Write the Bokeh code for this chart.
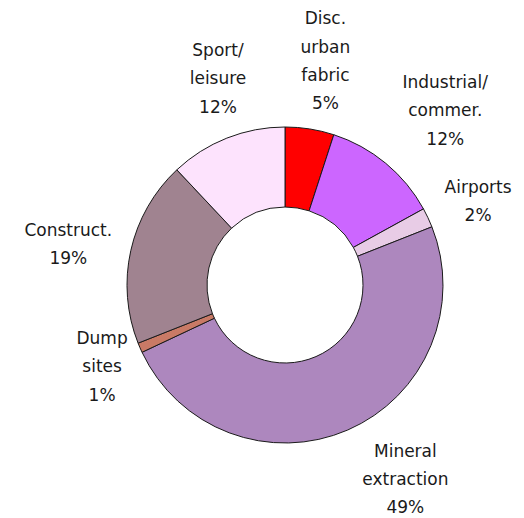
import math
from bokeh.plotting import figure
from bokeh.models import Range1d, ColumnDataSource
from bokeh.embed import file_html
from bokeh.resources import INLINE
from bokeh.core.properties import value

# Data (clockwise from 12 o'clock)
categories = ["Disc.\nurban\nfabric", "Industrial/\ncommer.", "Airports", "Mineral\nextraction",
              "Dump\nsites", "Construct.", "Sport/\nleisure"]
shares = [5, 12, 2, 49, 1, 19, 12]
colors = ["#FF0000", "#CC66FF", "#E8CCE6", "#AD87BE", "#C97A66", "#A08390", "#FDE3FD"]

# Layout (pixels)
W, H = 524, 518
cx, cy = 284.5, H - 284.5
r_out, r_in = 158, 78
r_label = 220
label_nudge = [(6, 7), (20, 5), (-6, -10), (33, 8), (19, 6), (-2, -7), (14, 2)]

total = sum(shares)
starts, ends, lx, ly, texts = [], [], [], [], []
cum = 0.0
for i, s in enumerate(shares):
    a0 = math.pi / 2 - 2 * math.pi * cum / total
    a1 = math.pi / 2 - 2 * math.pi * (cum + s) / total
    starts.append(a0)
    ends.append(a1)
    mid = (a0 + a1) / 2
    lx.append(cx + r_label * math.cos(mid) + label_nudge[i][0])
    ly.append(cy + r_label * math.sin(mid) + label_nudge[i][1])
    texts.append(f"{categories[i]}\n{round(100 * s / total)}%")
    cum += s

src = ColumnDataSource(dict(start=starts, end=ends, color=colors))
lsrc = ColumnDataSource(dict(x=lx, y=ly, text=texts))

p = figure(width=W, height=H, x_range=Range1d(0, W), y_range=Range1d(0, H),
           output_backend="svg", toolbar_location=None, min_border=0)
p.xaxis.visible = False
p.yaxis.visible = False
p.grid.visible = False
p.outline_line_color = None
p.background_fill_color = "white"

p.annular_wedge(x=cx, y=cy, inner_radius=r_in, outer_radius=r_out,
                start_angle="start", end_angle="end", direction="clock",
                fill_color="color", line_color="#1a1a1a", line_width=1, source=src)

p.text(x="x", y="y", text="text", source=lsrc, text_align="center", text_baseline="middle",
       text_font=value("DejaVu Sans"), text_font_size="17px", text_color="#1a1a1a",
       text_line_height=1.41)

open("out.html", "w").write(file_html(p, INLINE))
